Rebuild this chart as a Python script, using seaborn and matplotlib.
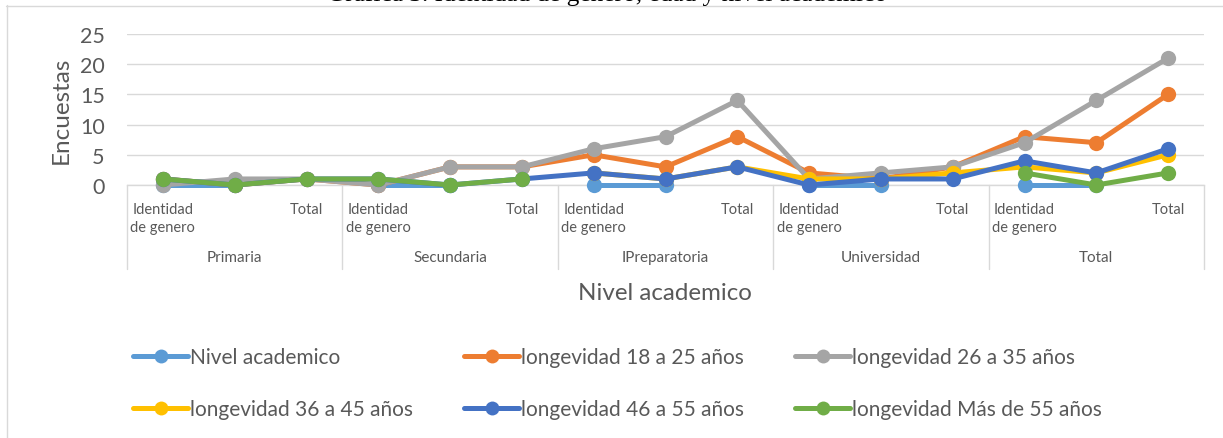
import numpy as np
import pandas as pd
import matplotlib
matplotlib.use("Agg")
import matplotlib.pyplot as plt
import matplotlib.transforms as mtransforms
from matplotlib.lines import Line2D
import seaborn as sns

# ---- data -------------------------------------------------------------
groups = ["Primaria", "Secundaria", "IPreparatoria", "Universidad", "Total"]
sub_labels = ["Identidad\nde genero", "", "Total"]

nan = np.nan
nivel_academico = [0, 0, nan, 0, 0, nan, 0, 0, nan, 0, 0, nan, 0, 0, nan]
edad_18_25 = [1, 0, 1, 0, 3, 3, 5, 3, 8, 2, 1, 3, 8, 7, 15]
edad_26_35 = [0, 1, 1, 0, 3, 3, 6, 8, 14, 1, 2, 3, 7, 14, 21]
edad_36_45 = [nan, nan, nan, nan, nan, nan, 2, 1, 3, 1, 1, 2, 3, 2, 5]
edad_46_55 = [1, 0, 1, 1, 0, 1, 2, 1, 3, 0, 1, 1, 4, 2, 6]
edad_55_mas = [1, 0, 1, 1, 0, 1, nan, nan, nan, nan, nan, nan, 2, 0, 2]

series_names = [
    "Nivel academico",
    "longevidad 18 a 25 años",
    "longevidad 26 a 35 años",
    "longevidad 36 a 45 años",
    "longevidad 46 a 55 años",
    "longevidad Más de 55 años",
]
series_values = [nivel_academico, edad_18_25, edad_26_35,
                 edad_36_45, edad_46_55, edad_55_mas]
colors = ["#5B9BD5", "#ED7D31", "#A5A5A5", "#FFC000", "#4472C4", "#70AD47"]

# ---- figure -----------------------------------------------------------
W, H = 1223, 439
sns.set_theme(style="white")
plt.rcParams["font.family"] = ["Lato", "DejaVu Sans"]
TXT = "#595959"
GRID = "#D9D9D9"

fig = plt.figure(figsize=(W / 100, H / 100), dpi=100)
ax = fig.add_axes([127 / W, 1 - 186 / H, (1204 - 127) / W, (186 - 35) / H])

n = len(groups) * len(sub_labels)
xpos = np.arange(n)

LW = 3.6
MS = 11

for i, (name, vals, col) in enumerate(zip(series_names, series_values, colors)):
    df = pd.DataFrame({"x": xpos, "y": vals})
    # break the line wherever a value is missing
    valid = df["y"].notna()
    seg_id = (~valid).cumsum()
    for _, seg in df[valid].groupby(seg_id[valid]):
        sns.lineplot(data=seg, x="x", y="y", ax=ax, color=col, linewidth=LW,
                     marker="o", markersize=MS, markeredgewidth=0,
                     clip_on=False, zorder=3 + i, legend=False)

ax.set_xlim(-0.5, n - 0.5)
ax.set_ylim(0, 25)
ax.set_yticks(range(0, 26, 5))
ax.yaxis.grid(True, color=GRID, linewidth=1)
ax.xaxis.grid(False)
for s in ["left", "top", "right"]:
    ax.spines[s].set_visible(False)
ax.spines["bottom"].set_color(GRID)
ax.spines["bottom"].set_linewidth(1)
ax.spines["bottom"].set_zorder(1)

ax.set_xticks(xpos)
ax.set_xticklabels(sub_labels * len(groups), fontsize=10.5, color=TXT,
                   linespacing=1.37)
ax.tick_params(axis="x", length=0, pad=12.5)
ax.tick_params(axis="y", length=0, pad=16, labelsize=15.5, labelcolor=TXT)
ax.set_xlabel("")
ax.set_ylabel("Encuestas", fontsize=17.5, color=TXT, labelpad=6)

# multi-level category axis: group names and dividers
trans = mtransforms.blended_transform_factory(ax.transData, fig.transFigure)
k = len(sub_labels)
for g, name in enumerate(groups):
    ax.text(g * k + (k - 1) / 2, 1 - 258 / H, name, transform=trans,
            ha="center", va="center", fontsize=11, color=TXT)
for b in range(len(groups) + 1):
    xb = b * k - 0.5
    ax.add_line(Line2D([xb, xb], [1 - 186 / H, 1 - 270 / H], transform=trans,
                       color=GRID, linewidth=1, clip_on=False))

fig.text(665 / W, 1 - 294 / H, "Nivel academico", ha="center", va="center",
         fontsize=17.4, color=TXT)

# legend, filled row by row
handles = [Line2D([], [], color=c, linewidth=LW, marker="o", markersize=10,
                  markeredgewidth=0) for c in colors]
order = [0, 3, 1, 4, 2, 5]
fig.legend([handles[i] for i in order], [series_names[i] for i in order],
           ncol=3, loc="upper left", bbox_to_anchor=(133 / W, 1 - 348 / H),
           frameon=False, fontsize=15, labelcolor=TXT, handlelength=2.64,
           handletextpad=0.1, columnspacing=2.45, labelspacing=1.56,
           borderaxespad=0, borderpad=0)

# caption line above the chart frame
fig.text(607 / W, 1 - 0.8 / H,
         "Gráfica 3. Identidad de genero, edad y nivel academico",
         ha="center", va="baseline", fontsize=18.3, color="black",
         family="Liberation Serif")

# chart frame
fig.add_artist(Line2D([6.5 / W, 6.5 / W], [0, 1 - 6 / H], transform=fig.transFigure,
                      color=GRID, linewidth=1))
fig.add_artist(Line2D([6 / W, 1], [1 - 6.5 / H, 1 - 6.5 / H], transform=fig.transFigure,
                      color=GRID, linewidth=1))

fig.savefig("out.png", dpi=100)
